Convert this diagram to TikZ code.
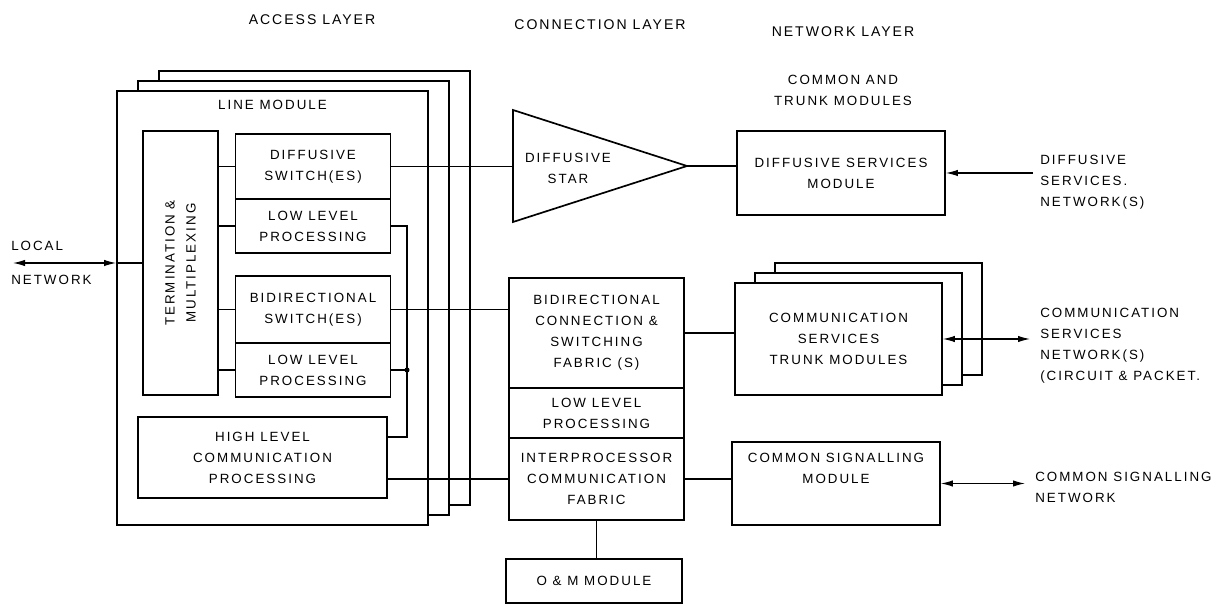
\documentclass[tikz,border=0pt]{standalone}
\usepackage{fontspec}
\setmainfont{Liberation Sans}[LetterSpace=15]
\newfontfamily\headfont{Liberation Sans}[LetterSpace=14]
\usepackage{tikz}
\usetikzlibrary{arrows.meta,positioning}

\newcommand{\boxfont}{\fontsize{9.5}{15}\selectfont}
\newcommand{\headsize}{\headfont\fontsize{10}{14}\selectfont}

\begin{document}
\begin{tikzpicture}[x=0.025cm, y=-0.025cm,
	blk/.style={draw, line width=1.2pt, fill=white, inner sep=0pt, align=center, font=\boxfont},
	lbl/.style={inner sep=0pt, align=center, font=\boxfont},
	side/.style={inner sep=0pt, align=left, anchor=west, font=\boxfont},
	head/.style={inner sep=0pt, align=center, font=\headsize},
	wire/.style={line width=0.8pt},
	tip/.style={wire, -{Latex[length=3mm,width=1.6mm]}},
	twoway/.style={wire, {Latex[length=3mm,width=1.6mm]}-{Latex[length=3mm,width=1.6mm]}}]

	\useasboundingbox (0,0) rectangle (1225,609);

	% layer headings
	\node[head] (access) at (312,20) {ACCESS LAYER};
	\node[head] (connect) at (600,25) {CONNECTION LAYER};
	\node[head] (netw) at (843,32) {NETWORK LAYER};
	\node[lbl] (ctm) at (843,90) {COMMON AND\\TRUNK MODULES};

	% line module stack
	\node[blk, minimum width=7.775cm, minimum height=10.85cm] (lmC) at (314.5,288) {};
	\node[blk, minimum width=7.775cm, minimum height=10.85cm] (lmB) at (293.5,298) {};
	\node[blk, minimum width=7.775cm, minimum height=10.85cm] (lm) at (272.5,308) {};
	\node[lbl, below=2.5mm of lm.north] (lmtitle) {LINE MODULE};

	\node[blk, minimum width=1.875cm, minimum height=6.6cm] (term) at (180.5,263) {};
	\node[lbl, rotate=90] (termtext) at (term.center) {TERMINATION \&\\MULTIPLEXING};
	\node[blk, minimum width=3.875cm, minimum height=1.625cm] (dsw) at (313,166.5) {DIFFUSIVE\\SWITCH(ES)};
	\node[blk, minimum width=3.875cm, minimum height=1.35cm] (llpa) at (313,226) {LOW LEVEL\\PROCESSING};
	\node[blk, minimum width=3.875cm, minimum height=1.675cm] (bsw) at (313,309.5) {BIDIRECTIONAL\\SWITCH(ES)};
	\node[blk, minimum width=3.875cm, minimum height=1.35cm] (llpb) at (313,370) {LOW LEVEL\\PROCESSING};
	\node[blk, minimum width=6.225cm, minimum height=2.025cm] (hlcp) at (262.5,457.5) {HIGH LEVEL\\COMMUNICATION\\PROCESSING};

	% connection layer
	\coordinate (starA) at (513,110);
	\coordinate (starB) at (513,222);
	\coordinate (starTip) at (687,166);
	\draw[line width=1.2pt, line join=miter] (starA) -- (starTip) -- (starB) -- cycle;
	\node[lbl] (startext) at (568,168) {DIFFUSIVE\\STAR};

	\node[blk, minimum width=4.375cm, minimum height=2.75cm] (bcf) at (596.5,333) {BIDIRECTIONAL\\CONNECTION \&\\SWITCHING\\FABRIC (S)};
	\node[blk, minimum width=4.375cm, minimum height=1.25cm] (llpc) at (596.5,413) {LOW LEVEL\\PROCESSING};
	\node[blk, minimum width=4.375cm, minimum height=2.05cm] (ipc) at (596.5,479) {INTERPROCESSOR\\COMMUNICATION\\FABRIC};
	\node[blk, minimum width=4.4cm, minimum height=1.1cm] (om) at (594,581) {O \& M MODULE};

	% network layer
	\node[blk, minimum width=5.2cm, minimum height=2.1cm] (dsm) at (841,173) {DIFFUSIVE SERVICES\\MODULE};
	\node[blk, minimum width=5.175cm, minimum height=2.8cm] (cstC) at (878.5,319) {};
	\node[blk, minimum width=5.175cm, minimum height=2.8cm] (cstB) at (858.5,329) {};
	\node[blk, minimum width=5.175cm, minimum height=2.8cm] (cst) at (838.5,339) {COMMUNICATION\\SERVICES\\TRUNK MODULES};
	\node[blk, minimum width=5.2cm, minimum height=2.075cm] (csm) at (836,483.5) {COMMON SIGNALLING\\MODULE\\[6pt]};

	% inner wiring of the line module
	\draw[wire] (term.east |- dsw.west) -- (dsw.west);
	\draw[wire] (term.east |- llpa.west) -- (llpa.west);
	\draw[wire] (term.east |- bsw.west) -- (bsw.west);
	\draw[wire] (term.east |- llpb.west) -- (llpb.west);

	\coordinate (tapTop) at (407,226);
	\coordinate (tapMid) at (407,370);
	\coordinate (tapBot) at (407,437);
	\draw[wire] (llpa.east) -- (tapTop) -- (tapBot) -- (tapBot -| hlcp.east);
	\draw[wire] (llpb.east) -- (tapMid);
	\fill (tapMid) circle (1.8pt);

	% layer to layer links
	\draw[wire] (dsw.east) -- (dsw.east -| starA);
	\draw[wire] (bsw.east) -- (bsw.east -| bcf.west);
	\draw[wire] (hlcp.east |- ipc.west) -- (ipc.west);
	\draw[wire] (starTip) -- (starTip -| dsm.west);
	\draw[wire] (bcf.east) -- (bcf.east -| cst.west);
	\draw[wire] (ipc.east) -- (ipc.east -| csm.west);
	\draw[wire] (ipc.south) -- (ipc.south |- om.north);

	% outside networks
	\coordinate (lnEnd) at (13,263);
	\draw[twoway] (lnEnd) -- (lnEnd -| lm.west);
	\draw[wire] (lnEnd -| lm.west) -- (term.west);
	\node[side] (lntext) at (11,263) {LOCAL\\[9pt]NETWORK};

	\coordinate (dsnEnd) at (1033,173);
	\draw[tip] (dsnEnd) -- (dsm.east);
	\node[side] (dsntext) at (1040,182) {DIFFUSIVE\\SERVICES.\\NETWORK(S)};

	\coordinate (csnEnd) at (1030,339);
	\draw[twoway] (cst.east) -- (csnEnd);
	\node[side] (csntext) at (1040,346) {COMMUNICATION\\SERVICES\\NETWORK(S)\\(CIRCUIT \& PACKET.};

	\coordinate (sigEnd) at (1025,483.5);
	\draw[twoway] (csm.east) -- (sigEnd);
	\node[side] (sigtext) at (1035,487) {COMMON SIGNALLING\\NETWORK};

\end{tikzpicture}
\end{document}
